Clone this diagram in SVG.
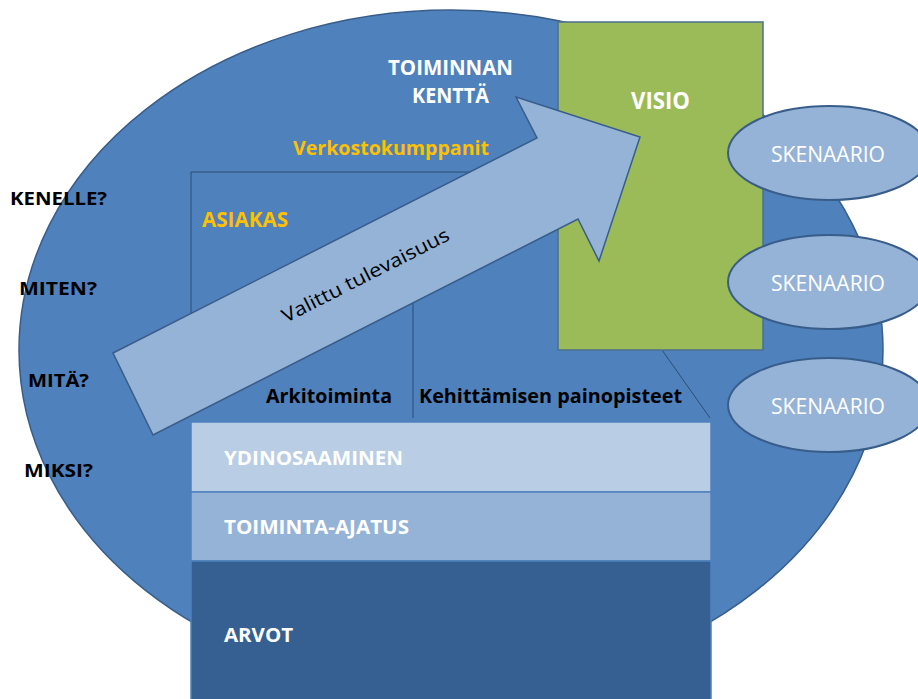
<svg xmlns="http://www.w3.org/2000/svg" width="918" height="699" viewBox="0 0 918 699">
  <style>
    .t { font-family: "Open Sans", Lato, "Liberation Sans", sans-serif; }
    .b { font-weight: bold; }
    .white { fill: #ffffff; }
    .black { fill: #000000; }
    .gold { fill: #FFC000; }
    .q { font-size: 18.5px; font-weight: bold; fill: #000000; }
    .guide { stroke: #2c4d75; stroke-width: 1; fill: none; }
    .scen { fill: #95B3D7; stroke: #385D8A; stroke-width: 2; }
    .scen-t { font-size: 21px; fill: #ffffff; }
    .layer-t { font-size: 20px; font-weight: bold; fill: #ffffff; }
  </style>

  <!-- operating field: large ellipse -->
  <g id="field">
    <ellipse cx="451" cy="350" rx="432" ry="340" fill="#4F81BD" stroke="#385D8A" stroke-width="1.5"/>
  </g>

  <!-- perspective guide lines -->
  <g id="connectors">
    <polyline class="guide" points="191,315 191,172 558,172"/>
    <line class="guide" x1="413" y1="300" x2="413" y2="418"/>
    <line class="guide" x1="662" y1="350" x2="710" y2="418"/>
  </g>

  <!-- vision -->
  <g id="visio">
    <rect x="558" y="22" width="205" height="328" fill="#9BBB59" stroke="#4d6f8f" stroke-width="1.5"/>
    <text class="t b white" x="631" y="109" font-size="24" textLength="59" lengthAdjust="spacingAndGlyphs">VISIO</text>
  </g>

  <!-- scenarios -->
  <g id="skenaario1">
    <ellipse class="scen" cx="829" cy="153" rx="101" ry="47"/>
    <text class="t scen-t" x="771" y="162" textLength="114" lengthAdjust="spacingAndGlyphs">SKENAARIO</text>
  </g>
  <g id="skenaario2">
    <ellipse class="scen" cx="829" cy="282" rx="101" ry="47"/>
    <text class="t scen-t" x="771" y="291" textLength="114" lengthAdjust="spacingAndGlyphs">SKENAARIO</text>
  </g>
  <g id="skenaario3">
    <ellipse class="scen" cx="829" cy="405" rx="101" ry="47"/>
    <text class="t scen-t" x="771" y="414" textLength="114" lengthAdjust="spacingAndGlyphs">SKENAARIO</text>
  </g>

  <!-- chosen future arrow -->
  <g id="valittu">
    <path d="M113,353 L537,138 L516,97 L640,137 L599,261 L578,219 L153,435 Z" fill="#95B3D7" stroke="#385D8A" stroke-width="1.5"/>
    <text class="t black" x="286" y="323" font-size="19" textLength="185" lengthAdjust="spacingAndGlyphs" transform="rotate(-26.9 286 323)">Valittu tulevaisuus</text>
  </g>

  <!-- foundation layers -->
  <g id="ydinosaaminen">
    <rect x="191" y="422" width="520" height="70" fill="#B9CDE5" stroke="#4F81BD" stroke-width="1.5"/>
    <text class="t layer-t" x="224" y="465" textLength="179" lengthAdjust="spacingAndGlyphs">YDINOSAAMINEN</text>
  </g>
  <g id="toiminta-ajatus">
    <rect x="191" y="492" width="520" height="69" fill="#95B3D7" stroke="#4F81BD" stroke-width="1.5"/>
    <text class="t layer-t" x="224" y="534" textLength="185" lengthAdjust="spacingAndGlyphs">TOIMINTA-AJATUS</text>
  </g>
  <g id="arvot">
    <rect x="191" y="561" width="520" height="145" fill="#366092" stroke="#4F81BD" stroke-width="1.5"/>
    <text class="t layer-t" x="224" y="642" textLength="69" lengthAdjust="spacingAndGlyphs">ARVOT</text>
  </g>

  <!-- field labels -->
  <g id="toiminnan-kentta">
    <text class="t b white" x="388" y="75" font-size="21" textLength="125" lengthAdjust="spacingAndGlyphs">TOIMINNAN</text>
    <text class="t b white" x="412" y="103" font-size="21" textLength="77" lengthAdjust="spacingAndGlyphs">KENTTÄ</text>
  </g>
  <g id="verkostokumppanit">
    <text class="t b gold" x="293" y="155" font-size="20" textLength="196" lengthAdjust="spacingAndGlyphs">Verkostokumppanit</text>
  </g>
  <g id="asiakas">
    <text class="t b gold" x="202" y="227" font-size="21" textLength="86" lengthAdjust="spacingAndGlyphs">ASIAKAS</text>
  </g>
  <g id="arkitoiminta">
    <text class="t b black" x="266" y="403" font-size="19.5" textLength="126" lengthAdjust="spacingAndGlyphs">Arkitoiminta</text>
  </g>
  <g id="kehittaminen">
    <text class="t b black" x="419" y="403" font-size="19.5" textLength="263" lengthAdjust="spacingAndGlyphs">Kehittämisen painopisteet</text>
  </g>

  <!-- guiding questions -->
  <g id="kysymykset">
    <text class="t q" x="10" y="205" textLength="97" lengthAdjust="spacingAndGlyphs">KENELLE?</text>
    <text class="t q" x="19" y="295" textLength="78" lengthAdjust="spacingAndGlyphs">MITEN?</text>
    <text class="t q" x="28" y="387" textLength="61" lengthAdjust="spacingAndGlyphs">MITÄ?</text>
    <text class="t q" x="24" y="477" textLength="69" lengthAdjust="spacingAndGlyphs">MIKSI?</text>
  </g>
</svg>
